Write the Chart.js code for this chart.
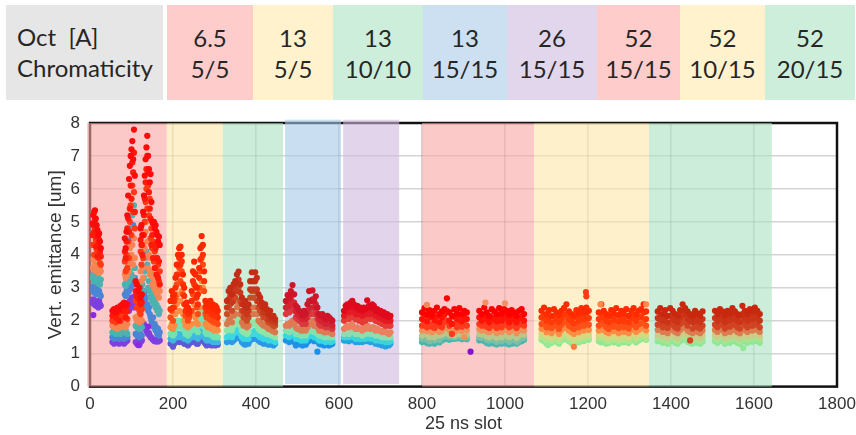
<!DOCTYPE html>
<html>
<head>
<meta charset="utf-8">
<script src="https://cdn.jsdelivr.net/npm/chart.js@4.4.1/dist/chart.umd.min.js"></script>
<style>
  html, body { margin: 0; padding: 0; background: #fff; }
  #page { position: relative; width: 856px; height: 435px; overflow: hidden; background: #fff; }
  .cell { position: absolute; top: 5px; height: 95px; color: #262626;
          font-family: Lato, "Open Sans", sans-serif; font-size: 24px; }
  .cell div { position: absolute; left: 0; right: 0; line-height: 31px; white-space: pre; }
  #chartBox { position: absolute; left: 0; top: 105px; width: 856px; height: 330px; }
</style>
</head>
<body>
<div id="page">
  <div id="hdr"></div>
  <div id="chartBox"><canvas id="c" width="856" height="330"></canvas></div>
</div>
<script>
// ---- header table: octupole current and chromaticity of each setting ----
const octupoleCurrent = ['6.5', '13', '13', '13', '26', '52', '52', '52'];
const chromaticity = ['5/5', '5/5', '10/10', '15/15', '15/15', '15/15', '10/15', '20/15'];

// ---- slot ranges covered by each setting (x units = 25 ns slots) ----
const settingStart = [-7, 185, 320, 470, 610, 800, 1070, 1347];
const settingEnd   = [185, 320, 465, 605, 745, 1070, 1347, 1643];
const settingLow   = [0, 0, 0, 0.08, 0.08, 0, 0, 0];
const settingHigh  = [8, 8, 8, 8.1, 8.1, 8, 8, 8];

// ---- axis ticks ----
const xTicks = [0, 200, 400, 600, 800, 1000, 1200, 1400, 1600, 1800];
const yTicks = [0, 1, 2, 3, 4, 5, 6, 7, 8];

// ---- trains: first slot, slot spacing between samples, setting index ----
const trainStart   = [6, 54, 84, 110, 122, 194, 245, 330, 394, 472, 532, 612, 668, 800, 938, 1088, 1226, 1368, 1506];
const trainStep    = [2, 4, 2, 3, 2, 3, 3, 4, 4, 4, 4, 4, 4, 6, 6, 6, 6, 6, 6];
const trainSetting = [0, 0, 0, 0, 0, 1, 1, 2, 2, 3, 3, 4, 4, 5, 5, 6, 6, 7, 7];

// ---- vertical emittance [um] per train, one array per colour layer (top layer first) ----
const emitRedTop = [
  [4.95, 5.2, 5.3, 5.35, 5.1, 4.9, 4.75, 4.6, 4.65, 4.4, 4.2],
  [2.3, 2.35, 2.25, 2.4, 2.35, 2.45, 2.5, 2.55, 2.45, 2.5],
  [4.5, 4.2, 4.7, 5.2, 5.8, 6.3, 6.7, 7.0, 7.2, 7.45, 6.9, 7.8, 6.4],
  [3.2, 3.1, 2.9, 3.0, 2.7, 2.8],
  [4.8, 4.9, 4.6, 5.3, 5.8, 6.4, 6.9, 7.26, 7.61, 7.0, 6.6, 6.2, 6.45, 5.6, 5.0, 4.95, 5.0, 4.8, 4.9, 4.7, 4.6, 4.4, 4.55, 4.3],
  [2.6, 2.9, 2.75, 2.8, 3.3, 3.7, 4.0, 4.2, 4.25, 4.0, 3.4, 3.0, 2.5, 2.55, 2.4, 2.3],
  [2.9, 3.5, 3.79, 3.4, 3.0, 2.8, 3.6, 4.2, 4.57, 4.3, 3.5, 2.6, 2.5, 2.45, 2.55, 2.6, 2.4, 2.5, 2.35, 2.45, 2.4, 2.3],
  [2.6, 2.9, 3.0, 2.8, 3.1, 3.2, 3.4, 3.49, 3.1, 2.7, 2.5, 2.6, 2.4, 2.5, 3.2, 3.47],
  [3.2, 3.47, 3.3, 2.8, 2.7, 2.55, 2.4, 2.5, 2.35, 2.2, 2.3, 2.1, 2.15, 2.05],
  [2.6, 2.78, 2.7, 2.9, 3.08, 2.8, 2.45, 2.4, 2.3, 2.25, 2.15, 2.3, 2.2, 2.5, 2.9],
  [2.6, 2.92, 2.6, 2.74, 2.4, 2.2, 2.15, 2.2, 2.1, 2.05, 2.15, 2.1, 2.05, 2.0],
  [2.3, 2.45, 2.5, 2.42, 2.55, 2.6, 2.5, 2.4, 2.45, 2.35, 2.4, 2.3, 2.4, 2.35],
  [2.62, 2.45, 2.4, 2.5, 2.45, 2.3, 2.35, 2.25, 2.3, 2.2, 2.25, 2.15, 2.2, 2.1, 2.15],
  [2.25, 2.38, 2.2, 2.32, 2.15, 2.3, 2.4, 2.2, 2.28, 2.35, 2.68, 2.25, 2.15, 2.35, 2.22, 2.38, 2.2, 2.3, 2.25],
  [2.3, 2.2, 2.4, 2.25, 2.15, 2.35, 2.28, 2.2, 2.38, 2.22, 2.35, 2.3, 2.18, 2.32, 2.25, 2.15, 2.3, 2.35, 2.2],
  [2.3, 2.4, 2.2, 2.32, 2.15, 2.35, 2.25, 2.18, 2.3, 2.38, 2.5, 2.28, 2.2, 2.15, 2.32, 2.22, 2.38, 2.25, 2.4, 2.3],
  [2.25, 2.5, 2.3, 2.2, 2.15, 2.32, 2.22, 2.38, 2.18, 2.3, 2.22, 2.35, 2.15, 2.3, 2.38, 2.2, 2.3, 2.35, 2.5, 2.28],
  [2.28, 2.38, 2.2, 2.32, 2.15, 2.38, 2.3, 2.2, 2.15, 2.32, 2.5, 2.38, 2.28, 2.2, 2.15, 2.3, 2.22, 2.15, 2.28],
  [2.3, 2.2, 2.35, 2.28, 2.15, 2.3, 2.22, 2.38, 2.28, 2.2, 2.15, 2.45, 2.3, 2.2, 2.35, 2.28, 2.4, 2.3, 2.2]
];
const emitRedMid = [
  [4.6, 4.9, 4.7, 5.05, 4.25, 4.55, 3.95, 4.3, 4.45, 4.1, 3.95],
  [2.15, 2.2, 2.1, 2.25, 2.0, 2.3, 2.35, 2.3, 2.1, 2.3],
  [4.1, 3.9, 4.4, 4.8, 5.1, 4.7, 5.4, 6.1, 5.7, 6.8, 6.5, 7.1, 5.3],
  [2.9, 2.75, 2.7, 2.65, 2.5, 2.55],
  [4.45, 4.3, 4.0, 4.6, 5.2, 5.7, 6.2, 6.6, 7.0, 6.5, 5.9, 5.4, 5.1, 4.3, 4.6, 3.9, 4.3, 3.6, 4.2, 3.4, 3.9, 3.3, 3.8, 3.1],
  [2.35, 2.6, 2.4, 2.6, 3.0, 3.4, 3.7, 3.9, 3.7, 3.8, 3.1, 2.75, 2.3, 2.35, 2.2, 2.2],
  [2.6, 3.2, 3.45, 3.05, 2.7, 2.5, 3.3, 3.85, 4.25, 4.0, 3.2, 2.4, 2.3, 2.3, 2.3, 2.4, 2.2, 2.3, 2.15, 2.25, 2.2, 2.1],
  [2.4, 2.65, 2.75, 2.55, 2.85, 2.95, 3.15, 3.25, 2.85, 2.5, 2.3, 2.4, 2.2, 2.3, 2.95, 3.2],
  [2.95, 3.2, 2.95, 2.6, 2.5, 2.4, 2.25, 2.3, 2.2, 2.05, 2.15, 2.0, 2.0, 1.95],
  [2.4, 2.55, 2.45, 2.65, 2.8, 2.55, 2.3, 2.2, 2.15, 2.1, 2.05, 2.15, 2.05, 2.3, 2.6],
  [2.4, 2.65, 2.4, 2.5, 2.2, 2.05, 2.0, 2.05, 1.95, 1.9, 2.0, 1.95, 1.9, 1.85],
  [2.15, 2.3, 2.3, 2.25, 2.35, 2.4, 2.3, 2.2, 2.3, 2.2, 2.2, 2.15, 2.2, 2.2],
  [2.4, 2.25, 2.2, 2.3, 2.25, 2.15, 2.2, 2.1, 2.1, 2.05, 2.1, 2.0, 2.05, 2.0, 2.0],
  [2.05, 2.15, 1.98, 2.1, 2.2, 2.0, 2.12, 1.95, 2.1, 2.18, 2.3, 2.0, 1.9, 2.12, 2.05, 2.15, 1.98, 2.1, 2.05],
  [2.1, 2.0, 2.15, 2.05, 1.95, 2.1, 2.05, 1.98, 2.12, 2.0, 2.15, 2.08, 1.95, 2.1, 2.05, 1.95, 2.08, 2.12, 2.0],
  [2.1, 2.15, 2.0, 2.1, 1.95, 2.12, 2.05, 1.95, 2.08, 2.15, 2.2, 2.05, 2.0, 1.92, 2.1, 2.0, 2.15, 2.05, 2.18, 2.08],
  [2.05, 2.2, 2.1, 2.0, 1.95, 2.12, 2.02, 2.15, 1.98, 2.1, 2.0, 2.12, 1.95, 2.08, 2.15, 2.0, 2.1, 2.12, 2.25, 2.05],
  [2.08, 2.15, 2.0, 2.1, 1.95, 2.15, 2.08, 2.0, 1.95, 2.1, 2.22, 2.15, 2.05, 2.0, 1.95, 2.08, 2.0, 1.95, 2.05],
  [2.08, 2.0, 2.15, 2.05, 1.95, 2.1, 2.02, 2.15, 2.08, 2.0, 1.95, 2.2, 2.08, 2.0, 2.12, 2.05, 2.18, 2.08, 2.0]
];
const emitRedLow = [
  [4.3, 4.6, 4.0, 4.8, 4.45, 4.15, 4.35, 3.9, 4.05, 3.75, 3.7],
  [2.0, 2.1, 1.95, 2.05, 2.15, 2.0, 2.2, 2.1, 2.25, 2.05],
  [3.8, 3.5, 4.0, 3.6, 4.4, 3.9, 5.0, 5.5, 4.6, 6.1, 5.3, 5.9, 4.8],
  [2.6, 2.4, 2.5, 2.3, 2.2, 2.35],
  [4.1, 3.7, 4.3, 3.9, 4.6, 5.0, 5.6, 6.0, 5.4, 6.1, 5.2, 5.7, 4.5, 4.8, 4.2, 4.4, 3.8, 4.1, 3.6, 3.9, 3.4, 3.7, 3.2, 3.5],
  [2.1, 2.3, 2.0, 2.4, 2.7, 3.1, 3.4, 3.6, 3.2, 3.5, 2.8, 2.5, 2.15, 2.2, 2.0, 2.1],
  [2.3, 2.8, 3.1, 2.7, 2.4, 2.2, 3.0, 3.5, 3.9, 3.7, 2.9, 2.2, 2.1, 2.15, 2.05, 2.2, 2.0, 2.1, 1.95, 2.05, 2.0, 1.9],
  [2.2, 2.4, 2.5, 2.3, 2.6, 2.7, 2.9, 3.0, 2.6, 2.3, 2.1, 2.2, 2.0, 2.1, 2.7, 2.9],
  [2.7, 2.9, 2.6, 2.4, 2.3, 2.2, 2.1, 2.15, 2.05, 1.95, 2.0, 1.9, 1.85, 1.85],
  [2.2, 2.3, 2.25, 2.4, 2.5, 2.3, 2.1, 2.05, 2.0, 1.95, 1.9, 2.0, 1.9, 2.1, 2.35],
  [2.2, 2.4, 2.2, 2.3, 2.05, 1.9, 1.85, 1.9, 1.85, 1.8, 1.85, 1.8, 1.8, 1.75],
  [2.0, 2.1, 2.15, 2.05, 2.2, 2.2, 2.1, 2.05, 2.1, 2.0, 2.05, 1.95, 2.05, 2.0],
  [2.2, 2.1, 2.05, 2.15, 2.1, 2.0, 2.0, 1.95, 1.95, 1.9, 1.95, 1.85, 1.9, 1.85, 1.85],
  [1.85, 1.95, 1.8, 1.9, 1.82, 1.78, 1.92, 1.85, 1.8, 1.95, 2.0, 1.85, 1.6, 1.9, 1.8, 1.95, 1.82, 1.88, 1.85],
  [1.9, 1.85, 1.95, 1.82, 1.78, 1.9, 1.85, 1.78, 1.9, 1.8, 1.95, 1.88, 1.8, 1.9, 1.85, 1.78, 1.88, 1.92, 1.85],
  [1.9, 1.95, 1.8, 1.9, 1.78, 1.92, 1.85, 1.75, 1.88, 1.95, 1.98, 1.85, 1.8, 1.75, 1.9, 1.8, 1.95, 1.85, 1.95, 1.88],
  [1.85, 1.95, 1.9, 1.8, 1.75, 1.9, 1.82, 1.95, 1.78, 1.9, 1.8, 1.92, 1.76, 1.88, 1.95, 1.8, 1.9, 1.92, 2.0, 1.85],
  [1.88, 1.95, 1.8, 1.9, 1.78, 1.95, 1.88, 1.8, 1.76, 1.9, 1.98, 1.95, 1.85, 1.4, 1.76, 1.88, 1.8, 1.76, 1.85],
  [1.88, 1.8, 1.95, 1.88, 1.76, 1.9, 1.82, 1.95, 1.88, 1.8, 1.76, 1.98, 1.88, 1.8, 1.92, 1.85, 1.95, 1.88, 1.8]
];
const emitOrange = [
  [3.6, 3.85, 3.55, 3.7, 3.95, 3.5, 3.65, 3.55, 3.45, 3.6, 3.5],
  [1.85, 1.8, 1.9, 1.75, 1.85, 1.8, 1.9, 1.85, 1.8, 1.9],
  [3.4, 3.3, 3.55, 3.4, 3.7, 3.5, 4.2, 3.8, 4.0, 4.3, 3.7, 4.5, 3.9],
  [2.1, 2.0, 2.15, 1.95, 2.05, 2.0],
  [3.5, 3.2, 3.6, 3.3, 3.9, 4.2, 4.7, 5.0, 4.4, 3.6, 4.0, 3.4, 3.9, 3.5, 3.1, 3.3, 3.0, 3.2, 2.9, 3.1, 2.8, 3.0, 2.7, 2.9],
  [1.8, 1.9, 1.75, 1.85, 2.2, 2.5, 2.8, 2.3, 2.6, 2.9, 2.2, 2.0, 1.85, 1.9, 1.8, 1.85],
  [1.9, 2.2, 2.5, 2.1, 1.95, 1.9, 2.4, 2.9, 3.2, 3.0, 2.4, 1.9, 1.85, 1.8, 1.85, 1.9, 1.75, 1.8, 1.7, 1.8, 1.75, 1.7],
  [1.9, 2.0, 2.1, 1.95, 2.15, 2.2, 2.4, 2.5, 2.2, 1.95, 1.85, 1.9, 1.8, 1.85, 2.2, 2.4],
  [2.2, 2.4, 2.2, 2.0, 1.95, 1.9, 1.85, 1.9, 1.8, 1.75, 1.8, 1.7, 1.7, 1.65],
  [1.85, 1.9, 1.85, 1.95, 2.0, 1.9, 1.8, 1.75, 1.75, 1.7, 1.7, 1.75, 1.7, 1.8, 1.9],
  [1.9, 2.0, 1.85, 1.9, 1.8, 1.7, 1.7, 1.7, 1.65, 1.65, 1.7, 1.65, 1.65, 1.6],
  [1.75, 1.8, 1.85, 1.8, 1.85, 1.9, 1.8, 1.75, 1.8, 1.75, 1.75, 1.7, 1.8, 1.75],
  [1.85, 1.8, 1.75, 1.8, 1.8, 1.7, 1.75, 1.7, 1.7, 1.65, 1.7, 1.65, 1.65, 1.6, 1.65],
  [1.7, 1.78, 1.68, 1.72, 1.65, 1.7, 1.75, 1.66, 1.7, 1.78, 1.8, 1.72, 1.7, 1.65, 1.72, 1.75, 1.68, 1.5, 1.7],
  [1.75, 1.7, 1.78, 1.68, 1.65, 1.72, 1.7, 1.62, 1.72, 1.66, 1.75, 1.72, 1.65, 1.72, 1.7, 1.62, 1.7, 1.75, 1.7],
  [1.75, 1.78, 1.65, 1.72, 1.62, 1.75, 1.7, 1.6, 1.72, 1.78, 1.8, 1.7, 1.65, 1.6, 1.72, 1.65, 1.78, 1.7, 1.78, 1.72],
  [1.7, 1.78, 1.72, 1.66, 1.62, 1.72, 1.68, 1.78, 1.62, 1.72, 1.66, 1.74, 1.62, 1.72, 1.78, 1.66, 1.72, 1.76, 1.82, 1.7],
  [1.72, 1.78, 1.66, 1.72, 1.62, 1.78, 1.72, 1.66, 1.62, 1.72, 1.8, 1.78, 1.7, 1.66, 1.62, 1.72, 1.66, 1.62, 1.7],
  [1.72, 1.66, 1.78, 1.72, 1.62, 1.72, 1.66, 1.78, 1.72, 1.66, 1.62, 1.78, 1.72, 1.66, 1.76, 1.7, 1.78, 1.72, 1.66]
];
const emitGreen = [
  [3.3, 3.4, 3.2, 3.35, 3.25, 3.3, 3.15, 3.3, 3.2, 3.1, 3.25],
  [1.65, 1.7, 1.6, 1.7, 1.65, 1.6, 1.7, 1.65, 1.7, 1.6],
  [3.1, 3.05, 3.2, 3.15, 3.3, 3.2, 3.5, 4.8, 3.4, 5.2, 3.3, 5.5, 3.6],
  [1.85, 1.8, 1.9, 1.75, 1.85, 1.8],
  [3.0, 2.8, 3.1, 2.9, 3.3, 3.5, 3.9, 4.1, 3.7, 3.0, 3.2, 2.9, 2.7, 2.8, 2.6, 2.7, 2.5, 2.6, 2.4, 2.5, 2.3, 2.4, 2.2, 2.3],
  [1.6, 1.65, 1.55, 1.6, 1.75, 1.9, 2.0, 1.8, 1.85, 2.0, 1.75, 1.7, 1.6, 1.65, 1.55, 1.6],
  [1.7, 1.8, 1.9, 1.75, 1.7, 1.65, 1.85, 2.1, 2.3, 2.0, 1.8, 1.65, 1.6, 1.6, 1.65, 1.6, 1.55, 1.6, 1.5, 1.55, 1.5, 1.5],
  [1.7, 1.75, 1.8, 1.7, 1.85, 1.9, 2.0, 2.05, 1.85, 1.7, 1.65, 1.7, 1.6, 1.65, 1.85, 1.95],
  [1.9, 1.95, 1.85, 1.75, 1.7, 1.7, 1.65, 1.7, 1.6, 1.6, 1.6, 1.55, 1.55, 1.5],
  [1.7, 1.7, 1.65, 1.75, 1.75, 1.7, 1.6, 1.6, 1.6, 1.55, 1.55, 1.6, 1.55, 1.65, 1.7],
  [1.7, 1.75, 1.65, 1.7, 1.6, 1.55, 1.55, 1.6, 1.5, 1.5, 1.55, 1.5, 1.5, 1.5],
  [1.6, 1.65, 1.7, 1.6, 1.7, 1.7, 1.65, 1.6, 1.65, 1.6, 1.6, 1.55, 1.65, 1.6],
  [1.7, 1.65, 1.6, 1.65, 1.65, 1.55, 1.6, 1.55, 1.55, 1.5, 1.55, 1.5, 1.5, 1.5, 1.5],
  [1.55, 1.62, 1.58, 1.5, 1.56, 1.5, 1.6, 1.55, 1.58, 1.62, 1.65, 1.58, 1.6, 1.55, 1.6, 1.62, 1.58, 1.6, 1.58],
  [1.6, 1.58, 1.62, 1.52, 1.5, 1.58, 1.52, 1.48, 1.55, 1.5, 1.6, 1.55, 1.5, 1.55, 1.55, 1.48, 1.55, 1.6, 1.58],
  [1.6, 1.62, 1.52, 1.58, 1.48, 1.6, 1.55, 1.48, 1.58, 1.62, 1.65, 1.55, 1.5, 1.46, 1.58, 1.5, 1.62, 1.55, 1.62, 1.58],
  [1.56, 1.62, 1.58, 1.5, 1.48, 1.58, 1.52, 1.62, 1.48, 1.58, 1.52, 1.6, 1.48, 1.58, 1.62, 1.52, 1.58, 1.62, 1.68, 1.56],
  [1.58, 1.62, 1.52, 1.58, 1.48, 1.62, 1.58, 1.52, 1.48, 1.58, 1.65, 1.62, 1.56, 1.52, 1.48, 1.58, 1.52, 1.48, 1.56],
  [1.58, 1.52, 1.62, 1.58, 1.48, 1.58, 1.52, 1.62, 1.58, 1.52, 1.48, 1.62, 1.58, 1.52, 1.62, 1.56, 1.62, 1.58, 1.52]
];
const emitTeal = [
  [2.95, 3.05, 2.85, 3.0, 2.9, 2.8, 2.95, 2.85, 2.9, 2.8, 2.75],
  [1.5, 1.45, 1.55, 1.5, 1.45, 1.5, 1.55, 1.45, 1.5, 1.5],
  [2.8, 2.75, 2.9, 2.85, 3.0, 2.9, 3.1, 3.0, 4.5, 3.2, 4.9, 3.1, 3.3],
  [1.6, 1.55, 1.65, 1.5, 1.6, 1.55],
  [2.6, 2.5, 2.7, 2.4, 2.8, 2.6, 2.9, 2.7, 2.5, 2.3, 2.4, 2.2, 2.1, 2.0, 1.9, 2.1, 1.8, 1.9, 1.7, 1.8, 1.6, 1.75, 1.55, 1.65],
  [1.45, 1.5, 1.4, 1.45, 1.5, 1.55, 1.6, 1.5, 1.55, 1.6, 1.5, 1.45, 1.45, 1.5, 1.4, 1.45],
  [1.5, 1.55, 1.6, 1.5, 1.5, 1.45, 1.55, 1.7, 1.65, 1.6, 1.5, 1.45, 1.4, 1.45, 1.4, 1.45, 1.4, 1.35, 1.4, 1.35, 1.4, 1.35],
  [1.5, 1.55, 1.6, 1.5, 1.6, 1.65, 1.7, 1.75, 1.6, 1.5, 1.45, 1.5, 1.45, 1.45, 1.6, 1.65],
  [1.6, 1.7, 1.6, 1.55, 1.5, 1.5, 1.45, 1.5, 1.45, 1.4, 1.45, 1.4, 1.4, 1.35],
  [1.55, 1.55, 1.5, 1.6, 1.6, 1.55, 1.45, 1.45, 1.45, 1.4, 1.4, 1.45, 1.4, 1.5, 1.55],
  [1.55, 1.6, 1.5, 1.55, 1.45, 1.4, 1.4, 1.45, 1.38, 1.35, 1.4, 1.37, 1.35, 1.38],
  [1.5, 1.5, 1.55, 1.5, 1.55, 1.55, 1.5, 1.45, 1.5, 1.45, 1.45, 1.45, 1.5, 1.45],
  [1.55, 1.5, 1.45, 1.5, 1.5, 1.4, 1.45, 1.4, 1.4, 1.38, 1.4, 1.35, 1.38, 1.35, 1.38],
  [1.45, 1.5, 1.42, 1.38, 1.45, 1.4, 1.48, 1.42, 1.5, 1.52, 1.55, 1.5, 1.52, 1.5, 1.52, 1.55, 1.5, 1.52, 1.5],
  [1.5, 1.48, 1.5, 1.42, 1.4, 1.45, 1.4, 1.36, 1.42, 1.38, 1.48, 1.42, 1.36, 1.42, 1.42, 1.36, 1.42, 1.48, 1.48],
  [1.5, 1.48, 1.4, 1.48, 1.38, 1.5, 1.45, 1.38, 1.48, 1.52, 1.55, 1.45, 1.4, 1.36, 1.48, 1.4, 1.52, 1.45, 1.52, 1.48],
  [1.46, 1.5, 1.45, 1.4, 1.38, 1.48, 1.42, 1.52, 1.38, 1.48, 1.42, 1.5, 1.38, 1.48, 1.52, 1.42, 1.48, 1.52, 1.56, 1.46],
  [1.48, 1.52, 1.42, 1.48, 1.38, 1.52, 1.48, 1.42, 1.38, 1.48, 1.55, 1.52, 1.46, 1.42, 1.38, 1.48, 1.42, 1.38, 1.46],
  [1.48, 1.42, 1.52, 1.48, 1.38, 1.48, 1.42, 1.52, 1.48, 1.42, 1.38, 1.52, 1.48, 1.42, 1.52, 1.46, 1.52, 1.48, 1.42]
];
const emitBase = [
  [2.55, 2.65, 2.5, 2.6, 2.45, 2.55, 2.5, 2.4, 2.6, 2.5, 2.45],
  [1.35, 1.3, 1.4, 1.35, 1.3, 1.35, 1.4, 1.3, 1.35, 1.4],
  [2.45, 2.4, 2.5, 2.35, 2.55, 2.3, 2.6, 2.5, 2.7, 2.45, 2.6, 2.4, 2.75],
  [1.35, 1.3, 1.4, 1.26, 1.35, 1.4],
  [1.9, 1.85, 1.95, 1.8, 1.9, 1.82, 1.75, 1.7, 1.65, 1.6, 1.62, 1.55, 1.5, 1.48, 1.45, 1.42, 1.4, 1.38, 1.42, 1.37, 1.4, 1.37, 1.42, 1.4],
  [1.3, 1.35, 1.21, 1.3, 1.35, 1.4, 1.45, 1.35, 1.4, 1.45, 1.35, 1.3, 1.3, 1.35, 1.25, 1.3],
  [1.35, 1.4, 1.45, 1.35, 1.3, 1.3, 1.4, 1.5, 1.45, 1.4, 1.35, 1.3, 1.25, 1.3, 1.28, 1.32, 1.25, 1.3, 1.28, 1.25, 1.3, 1.27],
  [1.35, 1.4, 1.45, 1.35, 1.4, 1.45, 1.5, 1.55, 1.45, 1.35, 1.3, 1.27, 1.3, 1.3, 1.4, 1.45],
  [1.45, 1.5, 1.45, 1.4, 1.35, 1.35, 1.3, 1.35, 1.3, 1.27, 1.3, 1.28, 1.25, 1.3],
  [1.4, 1.42, 1.35, 1.45, 1.45, 1.35, 1.25, 1.3, 1.3, 1.28, 1.25, 1.3, 1.27, 1.35, 1.4],
  [1.42, 1.45, 1.38, 1.4, 1.06, 1.3, 1.28, 1.3, 1.25, 1.27, 1.3, 1.25, 1.28, 1.3],
  [1.4, 1.4, 1.45, 1.38, 1.42, 1.45, 1.4, 1.35, 1.4, 1.35, 1.38, 1.35, 1.4, 1.38],
  [1.42, 1.38, 1.35, 1.4, 1.38, 1.3, 1.33, 1.28, 1.3, 1.25, 1.28, 1.22, 1.27, 1.25, 1.3],
  [1.35, 1.4, 1.32, 1.3, 1.36, 1.3, 1.38, 1.34, 1.4, 1.44, 1.45, 1.42, 1.45, 1.45, 1.46, 1.48, 1.44, 1.46, 1.44],
  [1.4, 1.42, 1.38, 1.32, 1.3, 1.35, 1.3, 1.28, 1.32, 1.3, 1.36, 1.3, 1.28, 1.3, 1.32, 1.3, 1.35, 1.38, 1.42],
  [1.42, 1.38, 1.3, 1.4, 1.32, 1.4, 1.36, 1.3, 1.4, 1.44, 1.45, 1.38, 1.32, 1.3, 1.4, 1.34, 1.44, 1.38, 1.45, 1.42],
  [1.38, 1.34, 1.35, 1.3, 1.32, 1.4, 1.34, 1.44, 1.3, 1.4, 1.34, 1.4, 1.32, 1.4, 1.44, 1.34, 1.4, 1.44, 1.48, 1.42],
  [1.38, 1.42, 1.33, 1.38, 1.3, 1.42, 1.38, 1.33, 1.3, 1.38, 1.45, 1.42, 1.36, 1.33, 1.3, 1.38, 1.33, 1.3, 1.36],
  [1.38, 1.33, 1.42, 1.38, 1.3, 1.38, 1.33, 1.42, 1.38, 1.33, 1.3, 1.42, 1.38, 1.33, 1.42, 1.36, 1.42, 1.38, 1.33]
];

// ---- isolated bunches lying outside the main clouds ----
const straySlot = [8, 116, 140, 812, 917, 953, 1000, 1104, 1166, 1195, 1196, 1230, 1340, 1574];
const strayEmit = [2.17, 1.26, 1.82, 2.48, 1.06, 2.55, 2.53, 1.26, 1.21, 2.87, 2.74, 2.5, 2.5, 1.17];

// ---- styling ----
const stripeColors = ['rgba(250,165,165,0.6)', 'rgba(255,230,170,0.6)', 'rgba(170,225,193,0.6)',
                      'rgba(165,200,230,0.6)', 'rgba(205,183,222,0.6)', 'rgba(250,165,165,0.6)',
                      'rgba(255,230,170,0.6)', 'rgba(170,225,193,0.6)'];
const headerColors = ['#ffcccc', '#fff2cc', '#cceeda', '#cce0f1', '#e2d6ec', '#ffcccc', '#fff2cc', '#cceeda'];
const headerEdges = [167, 253, 333, 423, 507, 597, 680, 765, 855];
// layer colours per setting: base, teal, green, orange, red low, red mid, red top
const layerPalette = [
  ['#7e3fe0', '#4a86d4', '#4cb2b0', '#f58552', '#ff3a14', '#ff1a0a', '#ff0a0a'],
  ['#5e5ad8', '#3fb8e0', '#72e2b0', '#ff8c44', '#ff4a14', '#ff3008', '#ff2600'],
  ['#2c98e8', '#3cd8e0', '#90e4a8', '#d8784c', '#cc4a24', '#c9381c', '#c52c16'],
  ['#1e90e8', '#34d8e0', '#84e0b0', '#e07a54', '#d83a40', '#d42432', '#cf1628'],
  ['#26a2e4', '#3cd4d8', '#90dcb0', '#ea8060', '#e63a34', '#e41a24', '#e00a1c'],
  ['#4ab6b0', '#7cc0a4', '#b8c88c', '#f2905a', '#ff3a1c', '#ff1408', '#ff0000'],
  ['#92e892', '#aee68c', '#d6d880', '#ff8c44', '#ff5018', '#ff3a08', '#ff2a00'],
  ['#8ee894', '#a8e292', '#cccc88', '#dc7c50', '#d04424', '#cc3418', '#c8280e']
];
const strayColors = ['#8a2be2', '#8a2be2', '#8a2be2', '#f08a5a', '#8a10d0', '#f59060', '#f59060',
                     '#98e898', '#ff7a3a', '#ff3a10', '#ff3a10', '#ff8a4a', '#ff8a4a', '#90e898'];

// ---- header table ----
(function buildHeader() {
  const hdr = document.getElementById('hdr');
  const label = document.createElement('div');
  label.className = 'cell';
  label.style.left = '6px';
  label.style.width = '157px';
  label.style.background = '#e6e6e6';
  label.innerHTML = '<div style="top:16px;left:11px">Oct  [A]</div><div style="top:47px;left:11px">Chromaticity</div>';
  hdr.appendChild(label);
  octupoleCurrent.forEach((cur, i) => {
    const c = document.createElement('div');
    c.className = 'cell';
    c.style.left = headerEdges[i] + 'px';
    c.style.width = (headerEdges[i + 1] - headerEdges[i]) + 'px';
    c.style.background = headerColors[i];
    c.style.textAlign = 'center';
    const a = document.createElement('div');
    a.style.top = '17px';
    a.textContent = cur;
    const b = document.createElement('div');
    b.style.top = '48px';
    b.textContent = chromaticity[i];
    c.appendChild(a);
    c.appendChild(b);
    hdr.appendChild(c);
  });
})();

// ---- scatter layers ----
function layerPoints(layer) {
  const pts = [];
  layer.forEach((vals, t) => {
    vals.forEach((v, i) => {
      pts.push({ x: trainStart[t] + i * trainStep[t], y: v, s: trainSetting[t] });
    });
  });
  return pts;
}
const layers = [emitBase, emitTeal, emitGreen, emitOrange, emitRedLow, emitRedMid, emitRedTop];
const datasets = layers.map((layer, li) => ({
  data: layerPoints(layer),
  order: layers.length - li,
  pointRadius: 3.1,
  pointHoverRadius: 3.1,
  pointBorderWidth: 0,
  backgroundColor: ctx => ctx.raw ? layerPalette[ctx.raw.s][li] : '#f00'
}));
datasets.push({
  data: straySlot.map((x, i) => ({ x: x, y: strayEmit[i] })),
  order: 0,
  pointRadius: 3.1,
  pointBorderWidth: 0,
  backgroundColor: strayColors
});

// frame around the plotting area and the coloured setting stripes
const stripes = {
  id: 'stripes',
  beforeDatasetsDraw(chart) {
    const { ctx, chartArea: a, scales: { x, y } } = chart;
    ctx.save();
    ctx.strokeStyle = '#111';
    ctx.lineWidth = 2.5;
    ctx.strokeRect(a.left, a.top, a.right - a.left, a.bottom - a.top);
    settingStart.forEach((s, i) => {
      const x0 = x.getPixelForValue(s), x1 = x.getPixelForValue(settingEnd[i]);
      const y0 = y.getPixelForValue(settingHigh[i]), y1 = y.getPixelForValue(settingLow[i]);
      ctx.fillStyle = stripeColors[i];
      ctx.fillRect(x0, y0, x1 - x0, y1 - y0);
    });
    ctx.restore();
  }
};

const tickFont = { family: '"Liberation Sans", Arial, sans-serif', size: 17 };
const titleFont = { family: '"Liberation Sans", Arial, sans-serif', size: 18 };

new Chart(document.getElementById('c'), {
  type: 'scatter',
  data: { datasets },
  options: {
    responsive: false,
    animation: false,
    devicePixelRatio: 1,
    events: [],
    layout: { padding: { top: 18, right: 19, left: 0, bottom: 0 } },
    plugins: { legend: { display: false }, tooltip: { enabled: false } },
    scales: {
      x: {
        type: 'linear', min: 0, max: 1800,
        afterBuildTicks: s => { s.ticks = xTicks.map(v => ({ value: v })); },
        afterFit: s => { s.height = 48.4; s.paddingLeft = 0; s.paddingRight = 0; },
        ticks: { font: tickFont, color: '#333', padding: 8, maxRotation: 0, autoSkip: false, callback: v => String(v) },
        grid: { color: 'rgba(0,0,0,0.17)', lineWidth: 1.6, drawTicks: false },
        border: { display: false },
        title: { display: true, text: '25 ns slot', font: titleFont, color: '#333', padding: { top: 0, bottom: 0 } }
      },
      y: {
        type: 'linear', min: 0, max: 8,
        afterBuildTicks: s => { s.ticks = yTicks.map(v => ({ value: v })); },
        afterFit: s => { s.width = 90; s.paddingTop = 0; s.paddingBottom = 0; },
        ticks: { font: tickFont, color: '#333', padding: 10, callback: v => String(v) },
        grid: { color: 'rgba(0,0,0,0.17)', lineWidth: 1.6, drawTicks: false },
        border: { display: false },
        title: { display: true, text: 'Vert. emittance [um]', font: { family: titleFont.family, size: 19 }, color: '#333', padding: { top: 44, bottom: 0 } }
      }
    }
  },
  plugins: [stripes]
});
</script>
</body>
</html>
